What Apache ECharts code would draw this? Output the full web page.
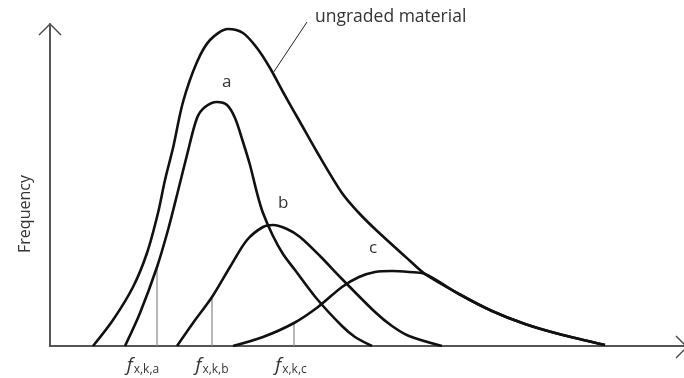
<!DOCTYPE html>
<html lang="en">
<head>
    <meta charset="UTF-8">
    <title>Grading curves</title>
    <style>
        html, body { margin: 0; padding: 0; background: #fff; }
        #container { width: 684px; height: 378px; }
    </style>
</head>
<body>
    <div id="container"></div>
    <script src="https://cdn.jsdelivr.net/npm/echarts@6/dist/echarts.min.js"></script>
    <script>
        // curves: [size, frequency]
        var ungraded = [[43, 0], [63, 26], [83, 59], [97, 93], [108, 133], [115, 166], [123, 198], [133, 244],
            [147, 284], [160, 306], [178, 317], [193, 313], [207, 298], [220, 278], [233, 254], [250, 224],
            [267, 194], [292, 153], [308, 134], [325, 117], [359, 86], [375, 72], [409, 52], [442, 35],
            [475, 22], [509, 12], [555, 1]];
        var curveA = [[75, 0], [90, 33], [107, 79], [118, 116], [127, 151], [137, 191], [147, 228], [155, 239],
            [167, 244], [177, 241], [185, 228], [193, 204], [200, 181], [207, 153], [213, 133], [223, 110],
            [233, 92], [245, 76], [267, 47], [292, 20], [305, 9], [322, 0]];
        var curveB = [[127, 0], [143, 23], [162, 49], [180, 79], [197, 106], [213, 119], [223, 121], [237, 117],
            [250, 109], [270, 90], [292, 67], [325, 34], [342, 20], [359, 10], [392, 0]];
        var curveC = [[183, 0], [213, 9], [244, 23], [268, 39], [292, 59], [309, 69], [325, 74], [342, 75],
            [359, 74], [375, 72], [409, 52], [442, 35], [475, 22], [509, 12], [555, 1]];
        // characteristic values f_x,k and curve height there
        var fxkNames = ['a', 'b', 'c'];
        var fxkX = [107, 162, 244];
        var fxkY = [79, 49, 23];
        var leader = [[223, 273], [257, 324]];

        var ec = echarts.init(document.getElementById('container'));

        var curveStyle = { color: '#111', width: 2.6 };
        function curve(name, data) {
            return {
                type: 'line', name: name, data: data, smooth: 0.3, symbol: 'none',
                lineStyle: curveStyle, z: 3, silent: true
            };
        }

        var series = [
            curve('ungraded material', ungraded),
            curve('a', curveA),
            curve('b', curveB),
            curve('c', curveC),
            {
                type: 'line', data: leader, symbol: 'none', clip: false, silent: true,
                lineStyle: { color: '#222', width: 1 }
            }
        ];
        fxkX.forEach(function (x, i) {
            series.push({
                type: 'line', data: [[x, 0], [x, fxkY[i]]], symbol: 'none', silent: true,
                lineStyle: { color: '#888', width: 1.2 }, z: 2
            });
        });

        var txt = { fill: '#333', fontFamily: 'Open Sans', fontSize: 16 };
        var graphics = [
            { type: 'text', left: 315, top: 8, style: Object.assign({}, txt, { text: 'ungraded material', fontSize: 17.5 }) },
            { type: 'text', left: 222, top: 74, style: Object.assign({}, txt, { text: 'a', fontSize: 17 }) },
            { type: 'text', left: 278, top: 195, style: Object.assign({}, txt, { text: 'b', fontSize: 17 }) },
            { type: 'text', left: 369, top: 240, style: Object.assign({}, txt, { text: 'c', fontSize: 17 }) },
            {
                type: 'text', x: 25, y: 214, rotation: Math.PI / 2,
                style: Object.assign({}, txt, { text: 'Frequency', align: 'center', verticalAlign: 'middle' })
            },
            // arrow heads
            { type: 'polyline', shape: { points: [[39, 35], [50, 24], [61, 35]] }, style: { stroke: '#444', lineWidth: 1.4, fill: null } },
            { type: 'polyline', shape: { points: [[676, 336], [687, 347], [676, 358]] }, style: { stroke: '#444', lineWidth: 1.4, fill: null } }
        ];
        var labelX = [143, 212, 291];
        fxkNames.forEach(function (n, i) {
            graphics.push({
                type: 'text', x: labelX[i], y: 366,
                style: {
                    text: '{f|f}{s|x,k,' + n + '}', align: 'center', verticalAlign: 'middle',
                    rich: {
                        f: { fontFamily: 'Open Sans', fontStyle: 'italic', fontSize: 19, fill: '#333', lineHeight: 22 },
                        s: { fontFamily: 'Open Sans', fontSize: 12, fill: '#333', lineHeight: 22, padding: [8, 0, 0, 1] }
                    }
                }
            });
        });

        ec.setOption({
            animation: false,
            backgroundColor: '#fff',
            grid: { left: 50, right: 0, top: 24, bottom: 32 },
            xAxis: {
                type: 'value', min: 0, max: 634,
                axisLine: { lineStyle: { color: '#555', width: 2 } },
                axisTick: { show: false }, axisLabel: { show: false }, splitLine: { show: false }
            },
            yAxis: {
                type: 'value', min: 0, max: 322,
                axisLine: { show: true, lineStyle: { color: '#555', width: 2 } },
                axisTick: { show: false }, axisLabel: { show: false }, splitLine: { show: false }
            },
            series: series,
            graphic: graphics
        });
    </script>
</body>
</html>
